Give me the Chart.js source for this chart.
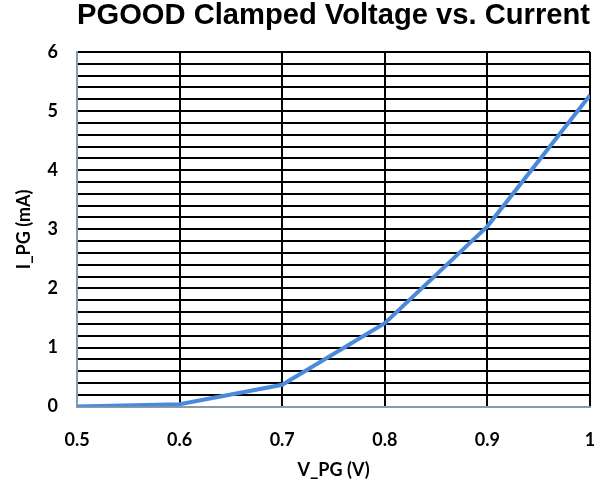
<!DOCTYPE html>
<html>
<head>
<meta charset="utf-8">
<script src="https://cdn.jsdelivr.net/npm/chart.js@4/dist/chart.umd.min.js"></script>
<style>
html,body{margin:0;padding:0;background:#fff;}
#wrap{width:605px;height:487px;}
</style>
</head>
<body>
<div id="wrap"><canvas id="c" width="605" height="487"></canvas></div>
<script>
const voltages = [0.5, 0.6, 0.7, 0.8, 0.9, 1.0];
const currents = [0.0, 0.04, 0.37, 1.41, 3.05, 5.27];
const titleText = 'PGOOD Clamped Voltage vs. Current';
const xTitle = 'V_PG (V)';
const yTitle = 'I_PG (mA)';

const points = voltages.map((v, i) => ({x: v, y: currents[i]}));
const yTickFont = {family: 'Lato, "Open Sans", sans-serif', size: 18, weight: 'bold'};
const xTickFont = {family: 'Lato, "Open Sans", sans-serif', size: 18, weight: 'bold', lineHeight: 3.1};
const axisTitleFont = {family: 'Lato, "Open Sans", sans-serif', size: 18, weight: 'bold'};

new Chart(document.getElementById('c'), {
  type: 'line',
  data: {
    datasets: [{
      data: points,
      borderColor: '#4a89dc',
      borderWidth: 4,
      pointRadius: 0,
      tension: 0,
      fill: false
    }]
  },
  options: {
    responsive: false,
    animation: false,
    devicePixelRatio: 1,
    layout: {padding: {left: 13, right: 15, top: 0, bottom: 6}},
    plugins: {
      legend: {display: false},
      tooltip: {enabled: false},
      title: {
        display: true,
        text: titleText,
        fullSize: false,
        color: '#000',
        font: {family: '"Liberation Sans", Arial, sans-serif', size: 30, weight: 'bold'},
        padding: {top: -2, bottom: 18}
      }
    },
    scales: {
      x: {
        type: 'linear',
        min: 0.5,
        max: 1,
        ticks: {
          stepSize: 0.1,
          color: '#000',
          font: xTickFont,
          padding: 6,
          maxRotation: 0,
          callback: v => Number(v.toFixed(1)) === 1 ? '1' : v.toFixed(1)
        },
        grid: {color: '#000', lineWidth: 2, drawTicks: false},
        border: {color: '#8a9aa6', width: 2},
        title: {display: true, text: xTitle, color: '#000', font: axisTitleFont, padding: {top: -15, bottom: 0}}
      },
      y: {
        min: 0,
        max: 6,
        ticks: {
          stepSize: 0.2,
          color: '#000',
          font: yTickFont,
          padding: 19,
          autoSkip: false,
          callback: v => Math.abs(v - Math.round(v)) < 1e-6 ? String(Math.round(v)) : ''
        },
        grid: {color: '#000', lineWidth: 2, drawTicks: false},
        border: {color: '#8a9aa6', width: 2},
        title: {display: true, text: yTitle, color: '#000', font: axisTitleFont, padding: {top: 0, bottom: -6}}
      }
    }
  }
});
</script>
</body>
</html>
